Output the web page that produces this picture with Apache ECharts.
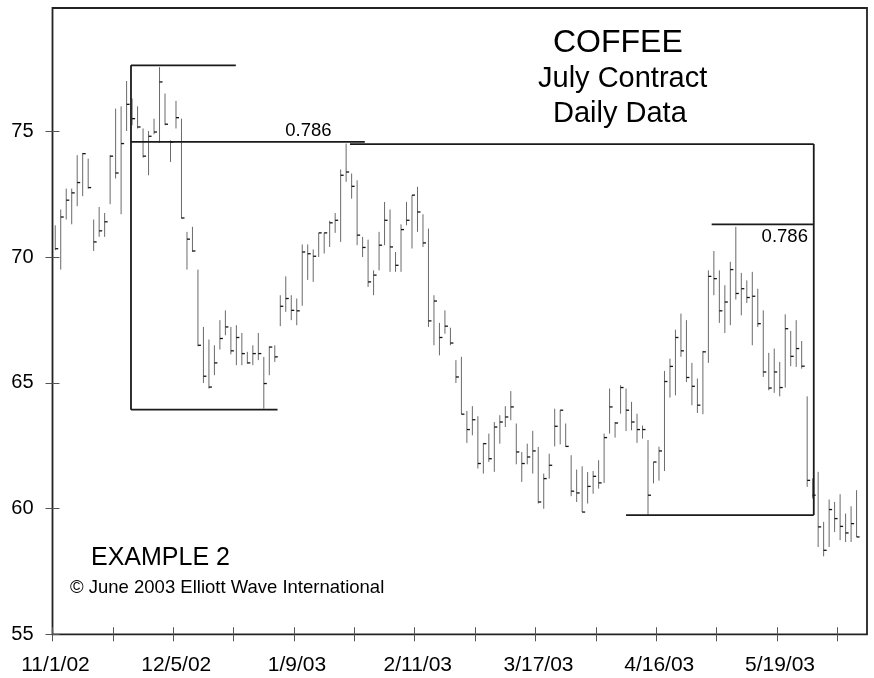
<!DOCTYPE html>
<html>
<head>
<meta charset="utf-8">
<script src="https://cdn.jsdelivr.net/npm/echarts@6/dist/echarts.min.js"></script>
<style>
  html, body { margin: 0; padding: 0; background: #fff; }
  #chart { width: 874px; height: 678px; }
</style>
</head>
<body>
<div id="chart"></div>
<script>
// tick labels, every second tick (ticks every 11 trading days)
const dateLabels = ['11/1/02', '12/5/02', '1/9/03', '2/11/03', '3/17/03', '4/16/03', '5/19/03'];
const xTicks = [0, 11, 22, 33, 44, 55, 66, 77, 88, 99, 110, 121, 132, 143];
const xLabelTicks = [0, 22, 44, 66, 88, 110, 132];
const yTicks = [55, 60, 65, 70, 75];

// daily bars (high / low / close)
const highs = [
  71.26, 71.89, 72.72, 72.72, 74.05, 74.14, 73.91, 71.49, 71.99, 71.75,
  74.05, 75.90, 75.99, 77.00, 76.30, 75.99, 75.11, 75.01, 75.50, 77.55,
  76.50, 74.64, 76.21, 75.50, 71.00, 71.20, 69.50, 67.22, 66.72, 66.49,
  67.49, 67.88, 67.22, 67.29, 66.98, 66.23, 66.49, 66.98, 66.03, 66.45,
  66.49, 68.48, 69.23, 68.48, 68.35, 70.50, 70.50, 70.30, 70.96, 70.96,
  71.44, 71.75, 73.48, 74.51, 73.32, 73.05, 70.80, 70.69, 69.47, 71.00,
  72.19, 71.89, 70.20, 71.30, 72.19, 72.46, 72.79, 71.70, 71.13, 68.48,
  67.38, 67.88, 67.19, 65.90, 66.03, 63.88, 64.07, 63.67, 62.61, 62.98,
  63.44, 63.71, 64.07, 64.67, 63.38, 62.25, 62.58, 63.09, 62.45, 61.39,
  62.18, 63.97, 63.91, 63.38, 62.12, 61.55, 61.68, 61.45, 61.49, 61.92,
  62.98, 64.77, 63.44, 64.90, 64.77, 64.24, 63.77, 63.30, 62.72, 61.85,
  62.46, 65.47, 65.96, 67.11, 67.75, 67.49, 65.79, 65.17, 66.27, 69.47,
  70.24, 69.47, 68.88, 69.81, 71.20, 69.37, 69.07, 69.41, 68.74, 67.88,
  66.19, 66.36, 65.83, 67.72, 67.06, 67.49, 66.66, 64.46, 61.20, 61.46,
  59.47, 60.36, 60.26, 60.57, 59.80, 60.09, 60.73
];
const lows = [
  70.27, 69.50, 71.49, 71.30, 72.02, 72.42, 72.72, 70.24, 70.80, 70.80,
  72.10, 73.12, 71.70, 75.01, 75.24, 75.11, 73.95, 73.25, 74.88, 74.54,
  75.24, 73.78, 75.11, 71.53, 69.50, 70.20, 66.45, 64.99, 64.77, 65.30,
  66.32, 66.89, 66.13, 65.70, 65.70, 65.76, 65.70, 65.90, 63.97, 65.30,
  65.83, 67.25, 67.82, 67.49, 67.29, 68.06, 69.09, 69.01, 70.00, 70.14,
  70.40, 70.96, 70.60, 72.99, 72.32, 70.47, 70.00, 68.81, 68.48, 69.47,
  70.47, 69.41, 69.41, 69.41, 71.26, 70.34, 71.00, 70.40, 67.22, 66.49,
  66.09, 66.95, 66.49, 64.99, 63.75, 62.61, 62.91, 61.59, 61.39, 61.85,
  61.46, 62.58, 63.24, 63.51, 61.76, 61.06, 61.76, 61.39, 60.20, 59.99,
  61.19, 62.47, 62.55, 62.45, 60.49, 60.26, 59.86, 60.20, 60.59, 60.79,
  61.02, 62.98, 62.82, 63.77, 63.08, 63.11, 62.61, 62.78, 59.77, 61.00,
  61.11, 61.49, 64.41, 64.50, 66.03, 65.03, 64.11, 63.80, 63.75, 65.79,
  68.48, 67.38, 66.98, 67.29, 68.31, 67.68, 68.17, 66.49, 67.22, 65.23,
  64.70, 64.60, 64.46, 64.81, 65.66, 65.63, 65.56, 60.86, 60.40, 58.47,
  58.10, 58.47, 59.07, 58.74, 58.67, 58.67, 58.87
];
const closes = [
  70.33, 71.59, 72.26, 72.55, 72.96, 74.11, 72.76, 70.60, 71.04, 71.40,
  74.01, 73.34, 74.51, 76.07, 75.50, 75.17, 74.01, 74.80, 74.97, 76.96,
  75.28, 74.57, 75.54, 71.55, 70.71, 70.24, 66.49, 65.26, 64.83, 65.79,
  66.76, 67.22, 66.27, 66.80, 66.16, 65.79, 66.16, 66.16, 64.97, 66.42,
  66.03, 68.04, 68.35, 67.88, 67.86, 70.20, 70.13, 70.03, 70.96, 70.96,
  71.36, 71.46, 73.25, 73.38, 72.81, 70.87, 70.38, 69.01, 69.28, 70.47,
  71.46, 70.40, 69.67, 71.09, 71.46, 72.46, 71.79, 70.56, 67.46, 68.25,
  66.80, 67.25, 66.58, 65.23, 63.75, 63.14, 63.53, 61.79, 62.58, 61.98,
  63.24, 63.44, 63.64, 64.04, 62.25, 61.79, 62.05, 62.29, 60.26, 61.19,
  61.72, 63.27, 63.91, 62.47, 60.69, 60.62, 59.86, 60.88, 61.28, 61.02,
  62.82, 64.04, 63.40, 64.81, 63.91, 63.44, 63.14, 63.14, 60.53, 61.85,
  62.29, 65.05, 65.65, 66.80, 66.27, 65.21, 64.86, 64.11, 66.23, 69.23,
  69.14, 67.86, 68.21, 69.50, 68.55, 68.74, 68.39, 68.44, 67.35, 65.43,
  64.79, 65.43, 64.81, 67.15, 66.05, 66.36, 65.66, 61.12, 60.53, 59.27,
  58.34, 59.96, 59.60, 59.29, 59.03, 59.40, 58.87
];

// Elliott wave annotation lines: [day1, price1, day2, price2]
const guideLines = [
  [14.3, 77.62, 33.4, 77.62],
  [14.3, 77.62, 14.3, 63.93],
  [14.3, 63.93, 41.0, 63.93],
  [14.3, 74.58, 56.9, 74.58],
  [54.2, 74.49, 138.7, 74.49],
  [138.7, 74.49, 138.7, 59.74],
  [104.5, 59.74, 138.7, 59.74],
  [120.1, 71.30, 138.7, 71.30]
];
// retracement labels: [day (left edge), price (text middle), text]
const guideLabels = [
  [42.4, 75.0, '0.786'],
  [129.2, 70.8, '0.786']
];

const FONT = "'Liberation Sans', Arial, Helvetica, sans-serif";
const bars = highs.map((h, i) => [i + 0.5, h, lows[i], closes[i]]);

const chart = echarts.init(document.getElementById('chart'));

const gridBox = { left: 52.5, right: 7, top: 8, bottom: 43.7 };

const option = {
  animation: false,
  backgroundColor: '#fff',
  grid: [
    Object.assign({ show: true, borderColor: '#222', borderWidth: 1.8, backgroundColor: 'transparent' }, gridBox),
    Object.assign({ show: false }, gridBox)
  ],
  xAxis: [
    {
      type: 'value', gridIndex: 0, min: 0, max: 148.4,
      axisLine: { show: false },
      axisTick: { show: true, inside: false, length: 7, lineStyle: { color: '#555', width: 1 }, customValues: xTicks },
      axisLabel: {
        show: true, margin: 20, color: '#000', fontSize: 21, fontFamily: FONT,
        padding: [0, 0, 0, 6],
        customValues: xLabelTicks,
        formatter: v => dateLabels[Math.round(v / 22)]
      },
      splitLine: { show: false }
    },
    {
      type: 'value', gridIndex: 1, min: 0, max: 148.4,
      axisLine: { show: false },
      axisTick: { show: true, inside: true, length: 7, lineStyle: { color: '#555', width: 1 }, customValues: xTicks },
      axisLabel: { show: false },
      splitLine: { show: false }
    }
  ],
  yAxis: [
    {
      type: 'value', gridIndex: 0, min: 55, max: 79.9,
      axisLine: { show: false },
      axisTick: { show: true, inside: false, length: 7, lineStyle: { color: '#555', width: 1 }, customValues: yTicks },
      axisLabel: { show: true, margin: 19, color: '#000', fontSize: 20, fontFamily: FONT, customValues: yTicks },
      splitLine: { show: false }
    },
    {
      type: 'value', gridIndex: 1, min: 55, max: 79.9,
      axisLine: { show: false },
      axisTick: { show: true, inside: true, length: 7, lineStyle: { color: '#555', width: 1 }, customValues: yTicks },
      axisLabel: { show: false },
      splitLine: { show: false }
    }
  ],
  series: [
    {
      // high-low bars with close tick
      type: 'custom',
      xAxisIndex: 0, yAxisIndex: 0,
      data: bars,
      renderItem: (params, api) => {
        const hi = api.coord([api.value(0), api.value(1)]);
        const lo = api.coord([api.value(0), api.value(2)]);
        const cl = api.coord([api.value(0), api.value(3)]);
        return {
          type: 'group',
          children: [
            { type: 'line', shape: { x1: hi[0], y1: hi[1], x2: lo[0], y2: lo[1] },
              style: { stroke: '#6a6a6a', lineWidth: 1 } },
            { type: 'line', shape: { x1: cl[0], y1: cl[1], x2: cl[0] + 3, y2: cl[1] },
              style: { stroke: '#111', lineWidth: 1.3 } }
          ]
        };
      }
    },
    {
      type: 'custom',
      xAxisIndex: 0, yAxisIndex: 0,
      data: guideLines,
      renderItem: (params, api) => {
        const a = api.coord([api.value(0), api.value(1)]);
        const b = api.coord([api.value(2), api.value(3)]);
        return { type: 'line', shape: { x1: a[0], y1: a[1], x2: b[0], y2: b[1] },
                 style: { stroke: '#1a1a1a', lineWidth: 1.8 } };
      }
    },
    {
      type: 'custom',
      xAxisIndex: 0, yAxisIndex: 0,
      data: guideLabels,
      renderItem: (params, api) => {
        const p = api.coord([api.value(0), api.value(1)]);
        return { type: 'text', x: p[0], y: p[1],
                 style: { text: guideLabels[params.dataIndex][2], font: '18.5px ' + FONT,
                          fill: '#000', textAlign: 'left', textVerticalAlign: 'middle' } };
      }
    }
  ],
  graphic: [
    { type: 'text', x: 553, y: 43.5, style: { text: 'COFFEE', font: '32px ' + FONT, fill: '#000', textVerticalAlign: 'middle' } },
    { type: 'text', x: 538, y: 78.5, style: { text: 'July Contract', font: '29px ' + FONT, fill: '#000', textVerticalAlign: 'middle' } },
    { type: 'text', x: 553, y: 113.5, style: { text: 'Daily Data', font: '29px ' + FONT, fill: '#000', textVerticalAlign: 'middle' } },
    { type: 'text', x: 91, y: 558, style: { text: 'EXAMPLE 2', font: '25px ' + FONT, fill: '#000', textVerticalAlign: 'middle' } },
    { type: 'text', x: 70, y: 587.5, style: { text: '\u00A9 June 2003 Elliott Wave International', font: '18.5px ' + FONT, fill: '#000', textVerticalAlign: 'middle' } }
  ]
};

chart.setOption(option);
</script>
</body>
</html>
